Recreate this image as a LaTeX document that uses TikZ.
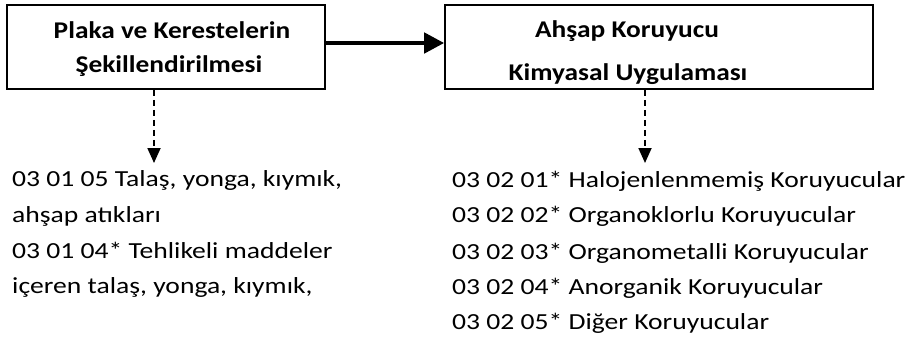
\documentclass[tikz,border=0pt]{standalone}
\usepackage{fontspec}
\setmainfont{Carlito}[FakeStretch=1.2]
\newfontfamily\titlefont{Carlito}[FakeStretch=1.14]
\usetikzlibrary{arrows.meta}
\begin{document}
\begin{tikzpicture}[x=1pt,y=-1pt,
  procbox/.style={draw=black, line width=1.6pt, rectangle, inner sep=0pt},
  titletxt/.style={anchor=base, font=\titlefont\fontsize{24}{28}\selectfont\bfseries, inner sep=0pt},
  itemtxt/.style={anchor=base west, font=\fontsize{23}{27}\selectfont, inner sep=0pt},
  mainarrow/.style={line width=4.5pt, -{Triangle[length=20pt,width=20pt]}},
  dasharrow/.style={line width=1.8pt, dashed, dash pattern=on 6pt off 4pt, -{Triangle[length=15pt,width=13pt]}}
]
\useasboundingbox (0,0) rectangle (915,338);
\node[procbox, minimum width=318pt, minimum height=84pt] (b1) at (166,47) {};
\node[procbox, minimum width=428pt, minimum height=84pt] (b2) at (659,47) {};
\node[titletxt] (t1a) at (172,38) {Plaka ve Kerestelerin};
\node[titletxt] (t1b) at (169,72) {Şekillendirilmesi};
\node[titletxt] (t2a) at (627,37) {Ahşap Koruyucu};
\node[titletxt] (t2b) at (628,80) {Kimyasal Uygulaması};
\draw[mainarrow] ([yshift=4pt]b1.east) -- ([yshift=4pt]b2.west);
\coordinate (e1) at (154,163);
\coordinate (e2) at (645,163);
\draw[dasharrow] (b1.south -| e1) -- (e1);
\draw[dasharrow] (b2.south -| e2) -- (e2);
\node[itemtxt] (l1) at (12,186) {03 01 05 Talaş, yonga, kıymık,};
\node[itemtxt] (l2) at (12,222) {ahşap atıkları};
\node[itemtxt] (l3) at (12,258) {03 01 04* Tehlikeli maddeler};
\node[itemtxt] (l4) at (12,293) {içeren talaş, yonga, kıymık,};
\node[itemtxt] (r1) at (452,187) {03 02 01* Halojenlenmemiş Koruyucular};
\node[itemtxt] (r2) at (452,222) {03 02 02* Organoklorlu Koruyucular};
\node[itemtxt] (r3) at (452,259) {03 02 03* Organometalli Koruyucular};
\node[itemtxt] (r4) at (452,294) {03 02 04* Anorganik Koruyucular};
\node[itemtxt] (r5) at (452,329) {03 02 05* Diğer Koruyucular};
\end{tikzpicture}
\end{document}
